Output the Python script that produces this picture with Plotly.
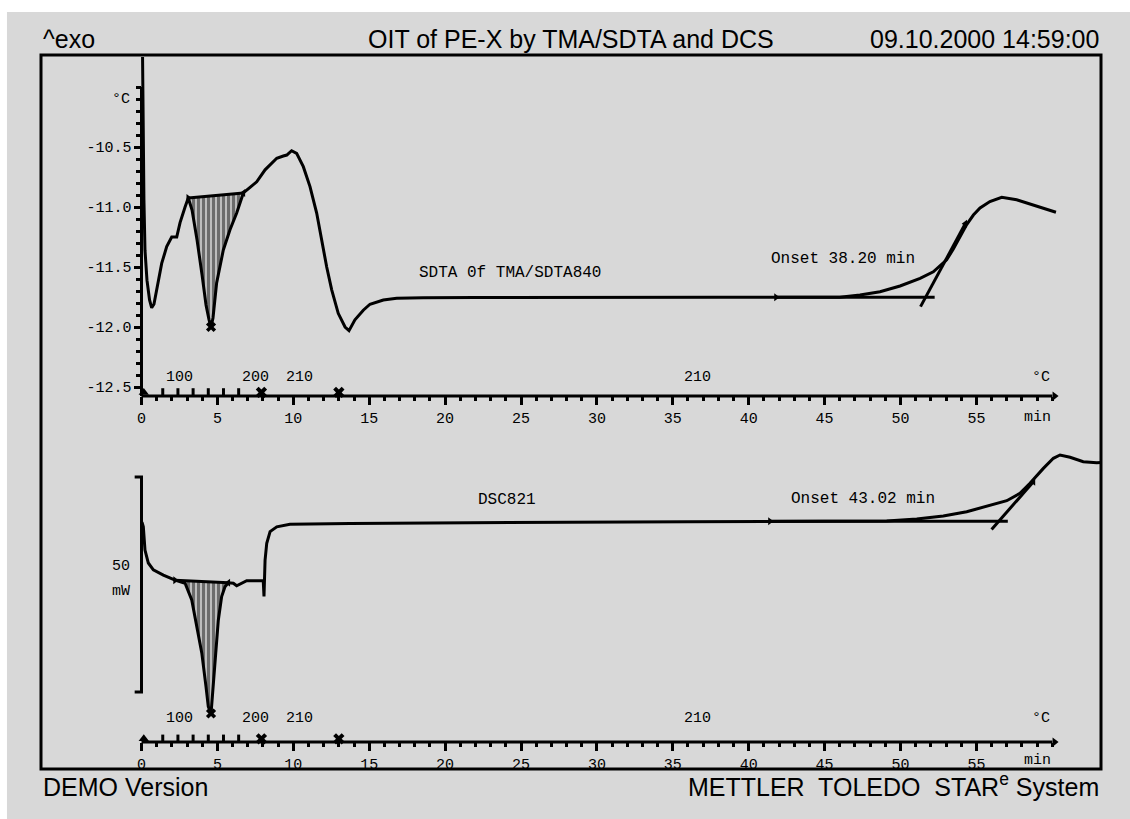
import plotly.graph_objects as go

GRAY = "#d8d8d8"
MONO = "Liberation Mono, DejaVu Sans Mono, monospace"
SANS = "Liberation Sans, Arial, sans-serif"

# ---- SDTA signal (TMA/SDTA840): time in min, temperature difference in °C
sdta_t = [0.07, 0.10, 0.16, 0.23, 0.36, 0.53, 0.67, 0.82, 1.00, 1.33, 1.66, 1.99, 2.32, 2.54,
          2.87, 3.08, 3.33, 3.66, 3.99, 4.25, 4.45, 4.58, 4.71, 4.95, 5.39, 5.83, 6.27, 6.71,
          7.15, 7.59, 8.14, 8.91, 9.34, 9.57, 9.89, 10.22, 10.66, 11.10, 11.54, 11.87, 12.20,
          12.53, 12.96, 13.41, 13.67, 14.06, 14.61, 15.05, 15.93, 16.81, 18.56, 22.0, 26.0,
          30.0, 34.0, 38.0, 42.0, 46.0, 47.33, 48.65, 49.97, 51.29, 52.16, 53.04, 53.48, 53.92,
          54.36, 54.80, 55.24, 55.89, 56.67, 57.65, 58.75, 59.63, 60.24]
sdta_T = [-9.75, -10.275, -10.94, -11.36, -11.61, -11.775, -11.84, -11.81, -11.69, -11.47,
          -11.33, -11.25, -11.25, -11.13, -11.00, -10.925, -11.025, -11.275, -11.567, -11.817,
          -11.94, -12.00, -11.925, -11.633, -11.358, -11.19, -11.05, -10.883, -10.836, -10.79,
          -10.69, -10.594, -10.575, -10.567, -10.531, -10.553, -10.664, -10.83, -11.05, -11.275,
          -11.50, -11.69, -11.886, -12.00, -12.03, -11.94, -11.86, -11.81, -11.775, -11.76,
          -11.756, -11.755, -11.753, -11.754, -11.752, -11.753, -11.752, -11.752, -11.733,
          -11.706, -11.658, -11.594, -11.54, -11.44, -11.35, -11.254, -11.146, -11.067, -11.008,
          -10.954, -10.919, -10.94, -10.983, -11.02, -11.044]

# ---- DSC821 heat flow: time in min, heat flow in mW
dsc_t = [0.03, 0.12, 0.23, 0.45, 0.78, 1.44, 2.21, 2.87, 3.31, 3.64, 3.97, 4.25, 4.40, 4.58,
         4.73, 4.91, 5.06, 5.28, 5.50, 5.72, 6.05, 6.27, 6.60, 6.93, 7.59, 8.02, 8.07, 8.14,
         8.25, 8.47, 8.91, 9.78, 13.74, 20.0, 28.0, 36.0, 44.0, 49.09, 51.07, 52.82, 54.36,
         55.90, 57.00, 57.87, 58.53, 59.41, 60.07, 60.51, 61.17, 62.04, 62.93, 63.60]
dsc_P = [39.5, 38.4, 33.0, 30.0, 28.4, 27.2, 26.0, 25.3, 21.4, 15.2, 9.1, 1.2, -3.4, -5.0,
         1.2, 9.1, 16.7, 22.2, 24.5, 25.4, 25.3, 24.7, 25.3, 25.9, 25.9, 25.9, 22.2, 30.7,
         34.6, 37.3, 38.4, 39.0, 39.2, 39.4, 39.5, 39.6, 39.7, 39.77, 40.23, 40.93, 41.93,
         43.33, 44.49, 46.2, 48.53, 52.0, 54.35, 55.12, 54.58, 53.56, 53.3, 53.4]

# ---- axis ticks
x_tick_vals = list(range(0, 56, 5))
x_tick_text = [str(v) for v in x_tick_vals]
x_minor_vals = list(range(0, 61))
y_tick_vals = [-10.5, -11.0, -11.5, -12.0, -12.5]
y_tick_text = ["-10.5", "-11.0", "-11.5", "-12.0", "-12.5"]
y_minor_vals = [round(-10.0 - 0.1 * i, 1) for i in range(26)]

# ---- temperature program (segment labels in °C, segment ends in min)
seg_label_t = [2.47, 7.48, 10.4, 36.6]
seg_label_text = ["100", "200", "210", "210"]
seg_end_t = [7.9, 13.0]
ramp_tick_t = [1.4, 2.4, 3.4, 4.4, 5.4, 6.4]

# ---- evaluations
ISO_START = 13.45            # switch to oxygen, min
onset_sdta = 38.20           # min after switch
onset_dsc = 43.02            # min after switch
sdta_int = (3.08, 6.71)      # melting peak integration limits, min
dsc_int = (2.21, 5.72)
sdta_slope = 0.2344          # inflection tangent, °C/min
dsc_slope = 4.03             # inflection tangent, mW/min

T_AXIS = -12.575             # level of the time axis in the SDTA plot
P_AXIS = -11.63              # level of the time axis in the DSC plot


def mean_between(ts, vs, a, b):
    sel = [v for t, v in zip(ts, vs) if a <= t <= b]
    return sum(sel) / len(sel)


fig = go.Figure()
line_k = dict(color="black", width=3)


def add_panel(ts, vs, xa, ya, integ, onset_min, slope, tan_lo, tan_hi, flag_lo, flat_rng,
              axis_level, tick_dy, label_y):
    # hatched peak area between the curve and the integration baseline
    px = [t for t in ts if integ[0] <= t <= integ[1]]
    py = [v for t, v in zip(ts, vs) if integ[0] <= t <= integ[1]]
    fig.add_trace(go.Scatter(x=px, y=py, xaxis=xa, yaxis=ya, mode="lines", fill="toself",
                             line=dict(width=0, color="black"),
                             fillpattern=dict(shape="|", size=5, solidity=0.7,
                                              fgcolor="black", bgcolor=GRAY),
                             hoverinfo="skip", showlegend=False))
    fig.add_trace(go.Scatter(x=[px[0], px[-1]], y=[py[0], py[-1]], xaxis=xa, yaxis=ya,
                             mode="lines", line=dict(color="black", width=3),
                             showlegend=False))
    # onset construction
    base = mean_between(ts, vs, *flat_rng)
    t_on = ISO_START + onset_min
    fig.add_trace(go.Scatter(x=[flag_lo, t_on + 0.6], y=[base, base], xaxis=xa, yaxis=ya,
                             mode="lines", line=line_k, showlegend=False))
    t_a = t_on + (tan_lo - base) / slope
    t_b = t_on + (tan_hi - base) / slope
    fig.add_trace(go.Scatter(x=[t_a, t_b], y=[tan_lo, tan_hi], xaxis=xa, yaxis=ya,
                             mode="lines", line=line_k, showlegend=False))
    # measured curve
    fig.add_trace(go.Scatter(x=ts, y=vs, xaxis=xa, yaxis=ya, mode="lines", line=line_k,
                             showlegend=False))
    # peak marker and limit flags
    i_pk = min(range(len(ts)), key=lambda i: vs[i] if integ[0] <= ts[i] <= integ[1] else 1e9)
    fig.add_trace(go.Scatter(x=[ts[i_pk]], y=[vs[i_pk]], xaxis=xa, yaxis=ya, mode="markers",
                             marker=dict(symbol="x", size=9, color="black"),
                             cliponaxis=False, showlegend=False))
    fig.add_trace(go.Scatter(x=[integ[0], flag_lo], y=[py[0], base], xaxis=xa, yaxis=ya,
                             mode="markers",
                             marker=dict(symbol="triangle-right", size=7, color="black"),
                             showlegend=False))
    fig.add_trace(go.Scatter(x=[integ[1], t_b], y=[py[-1], tan_hi], xaxis=xa, yaxis=ya,
                             mode="markers",
                             marker=dict(symbol="triangle-left", size=7, color="black"),
                             showlegend=False))
    # time axis with temperature program marks
    fig.add_trace(go.Scatter(x=[0, 60], y=[axis_level, axis_level], xaxis=xa, yaxis=ya,
                             mode="lines", line=line_k, showlegend=False))
    fig.add_trace(go.Scatter(x=[60.15], y=[axis_level], xaxis=xa, yaxis=ya, mode="markers",
                             marker=dict(symbol="triangle-right", size=8, color="black"),
                             cliponaxis=False, showlegend=False))
    fig.add_trace(go.Scatter(x=ramp_tick_t, y=[axis_level + tick_dy] * len(ramp_tick_t),
                             xaxis=xa, yaxis=ya, mode="markers",
                             marker=dict(symbol="line-ns", size=6,
                                         line=dict(width=3, color="black")),
                             cliponaxis=False, showlegend=False))
    fig.add_trace(go.Scatter(x=[0.15], y=[axis_level + tick_dy], xaxis=xa, yaxis=ya,
                             mode="markers",
                             marker=dict(symbol="triangle-up", size=9, color="black"),
                             cliponaxis=False, showlegend=False))
    fig.add_trace(go.Scatter(x=seg_end_t, y=[axis_level + tick_dy] * len(seg_end_t),
                             xaxis=xa, yaxis=ya, mode="markers",
                             marker=dict(symbol="x", size=10, color="black"),
                             cliponaxis=False, showlegend=False))
    for t, s in zip(seg_label_t, seg_label_text):
        fig.add_annotation(x=t, y=label_y, xref=xa, yref=ya, text=s, showarrow=False,
                           font=dict(family=MONO, size=15, color="black"))
    fig.add_annotation(x=60.0, y=label_y, xref=xa, yref=ya, text="°C", showarrow=False,
                       xanchor="right", font=dict(family=MONO, size=15, color="black"))


# upper panel: SDTA
add_panel(sdta_t, sdta_T, "x", "y", sdta_int, onset_sdta, sdta_slope, -11.83, -11.14,
          41.8, (30, 46), T_AXIS, 0.03, -12.417)
# lower panel: DSC
add_panel(dsc_t, dsc_P, "x2", "y2", dsc_int, onset_dsc, dsc_slope, 37.8, 48.9,
          41.4, (36, 49.1), P_AXIS, 0.75, -6.05)

# y axis line of the SDTA plot
fig.add_trace(go.Scatter(x=[0, 0], y=[-10.0, T_AXIS], xaxis="x", yaxis="y", mode="lines",
                         line=line_k, showlegend=False))
# 50 mW scale bar of the DSC plot
fig.add_trace(go.Scatter(x=[-0.45, 0, 0, -0.45], y=[50, 50, 0, 0], xaxis="x2", yaxis="y2",
                         mode="lines", line=line_k, showlegend=False))

txt = dict(family=MONO, size=16, color="black")
fig.add_annotation(x=24.3, y=-11.55, xref="x", yref="y", text="SDTA 0f TMA/SDTA840",
                   showarrow=False, font=txt)
fig.add_annotation(x=46.2, y=-11.436, xref="x", yref="y",
                   text=f"Onset {onset_sdta:.2f} min", showarrow=False, font=txt)
fig.add_annotation(x=24.1, y=44.65, xref="x2", yref="y2", text="DSC821",
                   showarrow=False, font=txt)
fig.add_annotation(x=47.55, y=44.9, xref="x2", yref="y2",
                   text=f"Onset {onset_dsc:.2f} min", showarrow=False, font=txt)
fig.add_annotation(x=-0.62, y=-10.1, xref="x", yref="y", text="°C", xanchor="right",
                   showarrow=False, font=dict(family=MONO, size=15, color="black"))
fig.add_annotation(x=-1.35, y=29.1, xref="x2", yref="y2", text="50",
                   showarrow=False, font=dict(family=MONO, size=15, color="black"))
fig.add_annotation(x=-1.35, y=23.3, xref="x2", yref="y2", text="mW",
                   showarrow=False, font=dict(family=MONO, size=15, color="black"))
for xa, ypos in (("x", 0.4916), ("x2", 0.0126)):
    fig.add_annotation(x=60.05, y=ypos, xref=xa, yref="paper", text="min", xanchor="right",
                       yanchor="middle", showarrow=False,
                       font=dict(family=MONO, size=15, color="black"))

# header and footer
hdr = dict(family=SANS, size=25, color="black")
for x, anchor, text in ((0, "left", "^exo"),
                        (0.5, "center", "OIT of PE-X by TMA/SDTA and DCS"),
                        (1, "right", "09.10.2000 14:59:00")):
    fig.add_annotation(x=x, y=1.0224, xref="paper", yref="paper", text=text, xanchor=anchor,
                       yanchor="middle", showarrow=False, font=hdr)
fig.add_annotation(x=0, y=-0.0252, xref="paper", yref="paper", text="DEMO Version",
                   xanchor="left", yanchor="middle", showarrow=False, font=hdr)
fig.add_annotation(x=1, y=-0.0224, xref="paper", yref="paper",
                   text="METTLER\u00a0 TOLEDO\u00a0 STAR<sup>e</sup>\u00a0System",
                   xanchor="right", yanchor="middle", showarrow=False, font=hdr)

# frame and white border strips
fig.add_shape(type="rect", xref="paper", yref="paper", x0=0, x1=1, y0=0, y1=1,
              line=dict(color="black", width=3))
fig.add_shape(type="rect", xref="paper", yref="paper", x0=-0.0387, x1=-0.0321,
              y0=-0.071, y1=1.078, line=dict(width=0), fillcolor="white", layer="below")
fig.add_shape(type="rect", xref="paper", yref="paper", x0=-0.0387, x1=1.028,
              y0=1.0602, y1=1.078, line=dict(width=0), fillcolor="white", layer="below")

xcommon = dict(range=[-6.6206, 63.208], showgrid=False, zeroline=False, showline=False,
               tickmode="array", tickvals=x_tick_vals, ticktext=x_tick_text,
               ticks="outside", ticklen=8, tickwidth=3, tickcolor="black",
               tickfont=dict(family=MONO, size=15, color="black"),
               minor=dict(tickmode="array", tickvals=x_minor_vals, ticks="outside",
                          ticklen=4, tickwidth=3, tickcolor="black"),
               anchor="free", domain=[0, 1])

fig.update_layout(
    width=1130, height=819,
    margin=dict(l=41, r=29, t=55, b=50),
    paper_bgcolor=GRAY, plot_bgcolor=GRAY,
    showlegend=False,
    xaxis=dict(**xcommon, position=0.5224),
    xaxis2=dict(**xcommon, position=0.0378, matches="x"),
    yaxis=dict(domain=[0.5168, 1], range=[-12.6083, -9.7333], anchor="free",
               position=0.0948, showgrid=False, zeroline=False, showline=False,
               tickmode="array", tickvals=y_tick_vals, ticktext=y_tick_text,
               ticks="outside", ticklen=7, tickwidth=3, tickcolor="black",
               tickfont=dict(family=MONO, size=15, color="black"),
               minor=dict(tickmode="array", tickvals=y_minor_vals, ticks="outside",
                          ticklen=5, tickwidth=3, tickcolor="black")),
    yaxis2=dict(domain=[0.0322, 0.4706], range=[-12.558, 60.233], anchor="free",
                position=0.0948, showgrid=False, zeroline=False, showline=False,
                showticklabels=False, ticks=""),
)

fig.write_html("out.html")
